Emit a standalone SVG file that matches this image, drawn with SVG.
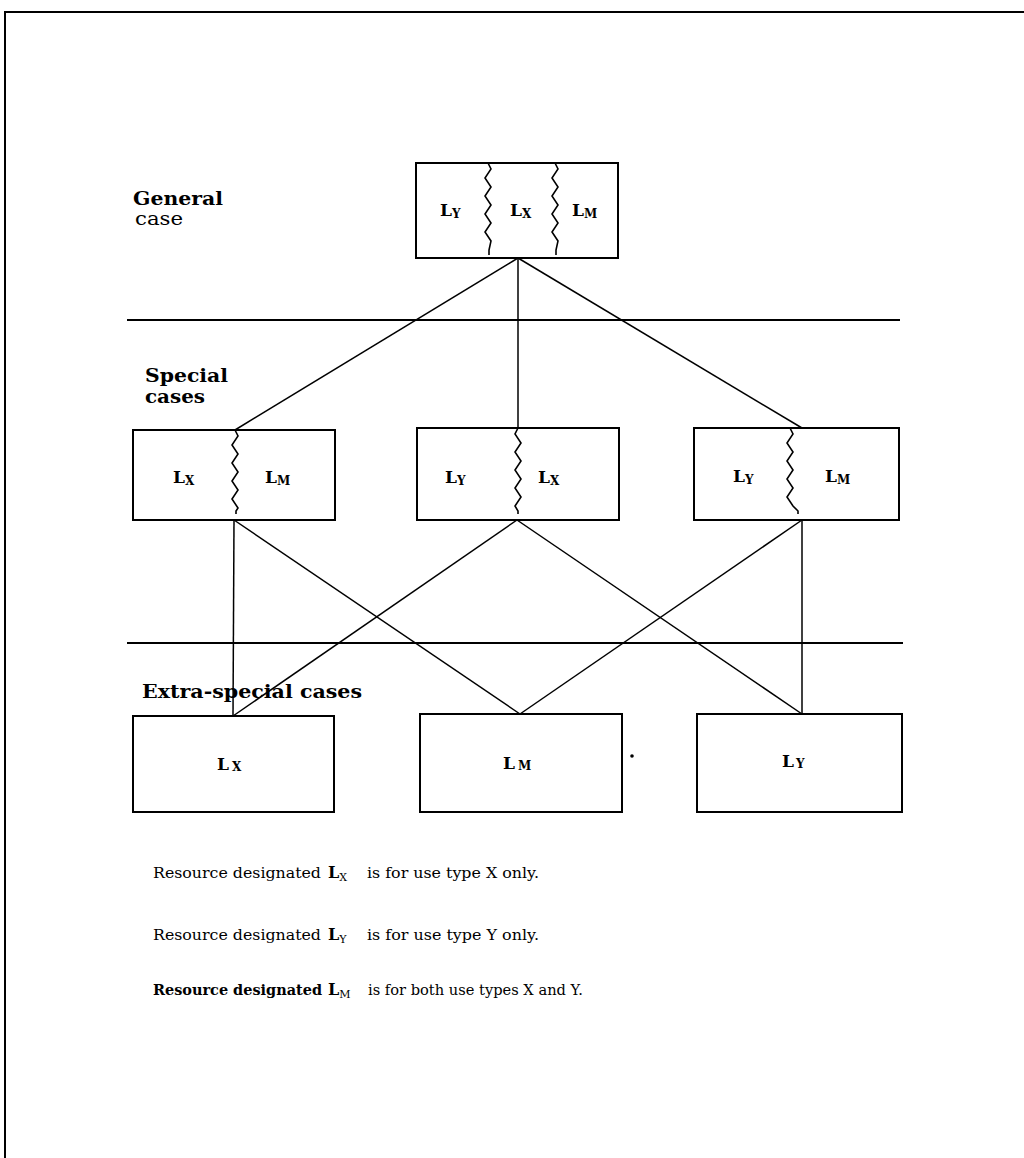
<svg xmlns="http://www.w3.org/2000/svg" width="1024" height="1158" viewBox="0 0 1024 1158">
<style>
.box{fill:none;stroke:#000;stroke-width:2}
.wave{fill:none;stroke:#000;stroke-width:1.6;stroke-linejoin:miter}
.ln{stroke:#000;stroke-width:1.5;fill:none}
.sep{stroke:#000;stroke-width:2;fill:none}
.lab{font-family:"DejaVu Serif","Liberation Serif",serif;font-weight:bold;font-size:17px;fill:#000}
.sub{font-size:12px}
.head{font-family:"DejaVu Serif","Liberation Serif",serif;font-weight:bold;font-size:19px;fill:#000}
.headr{font-family:"DejaVu Serif","Liberation Serif",serif;font-size:18px;fill:#000}
.note{font-family:"DejaVu Serif","Liberation Serif",serif;font-size:14.5px;fill:#000}
</style>
<rect width="1024" height="1158" fill="#fff"/>
<g id="frame">
<line class="sep" x1="5" y1="12" x2="1024" y2="12"/>
<line class="sep" x1="5" y1="11" x2="5" y2="1158"/>
</g>
<g id="separators">
<line class="sep" x1="127" y1="320" x2="900" y2="320"/>
<line class="sep" x1="127" y1="643" x2="903" y2="643"/>
</g>
<g id="headings">
<text class="head" x="133" y="205" textLength="90" lengthAdjust="spacingAndGlyphs">General</text>
<text class="headr" x="135" y="225" textLength="48" lengthAdjust="spacingAndGlyphs">case</text>
<text class="head" x="145" y="382" textLength="83" lengthAdjust="spacingAndGlyphs">Special</text>
<text class="head" x="145" y="403" textLength="60" lengthAdjust="spacingAndGlyphs">cases</text>
<text class="head" x="142" y="698" textLength="220" lengthAdjust="spacingAndGlyphs">Extra-special cases</text>
</g>
<g id="connectors">
<line class="ln" x1="518" y1="258" x2="235" y2="430"/>
<line class="ln" x1="518" y1="258" x2="518" y2="428"/>
<line class="ln" x1="518" y1="258" x2="802" y2="428"/>
<line class="ln" x1="234" y1="520" x2="233" y2="716"/>
<line class="ln" x1="234" y1="520" x2="520" y2="714"/>
<line class="ln" x1="517" y1="520" x2="233" y2="716"/>
<line class="ln" x1="517" y1="520" x2="802" y2="714"/>
<line class="ln" x1="802" y1="520" x2="802" y2="714"/>
<line class="ln" x1="802" y1="520" x2="520" y2="714"/>
</g>
<g id="general-case">
<rect class="box" x="416" y="163" width="202" height="95"/>
<path class="wave" d="M488,163 l3,6 l-6,9 l6,9 l-6,9 l6,9 l-6,9 l6,9 l-6,9 l6,9 l-2,9 l0,5"/>
<path class="wave" d="M555,163 l3,6 l-6,9 l6,9 l-6,9 l6,9 l-6,9 l6,9 l-6,9 l6,9 l-2,9 l0,5"/>
<text class="lab" x="440" y="216">L<tspan class="sub" dy="2">Y</tspan></text>
<text class="lab" x="510" y="216">L<tspan class="sub" dy="2">X</tspan></text>
<text class="lab" x="572" y="216">L<tspan class="sub" dy="2">M</tspan></text>
</g>
<g id="special-xm">
<rect class="box" x="133" y="430" width="202" height="90"/>
<path class="wave" d="M235,430 l3,6 l-6,9 l6,9 l-6,9 l6,9 l-6,9 l6,9 l-6,9 l6,9 l-2,3 l0,3"/>
<text class="lab" x="173" y="483">L<tspan class="sub" dy="2">X</tspan></text>
<text class="lab" x="265" y="483">L<tspan class="sub" dy="2">M</tspan></text>
</g>
<g id="special-yx">
<rect class="box" x="417" y="428" width="202" height="92"/>
<path class="wave" d="M518,428 l-3,6 l6,9 l-6,9 l6,9 l-6,9 l6,9 l-6,9 l6,9 l-6,9 l3,5 l0,3"/>
<text class="lab" x="445" y="483">L<tspan class="sub" dy="2">Y</tspan></text>
<text class="lab" x="538" y="483">L<tspan class="sub" dy="2">X</tspan></text>
</g>
<g id="special-ym">
<rect class="box" x="694" y="428" width="205" height="92"/>
<path class="wave" d="M790,428 l3,6 l-6,9 l6,9 l-6,9 l6,9 l-6,9 l6,9 l-6,9 l6,9 l5,5 l0,3"/>
<text class="lab" x="733" y="482">L<tspan class="sub" dy="2">Y</tspan></text>
<text class="lab" x="825" y="482">L<tspan class="sub" dy="2">M</tspan></text>
</g>
<g id="extra-x">
<rect class="box" x="133" y="716" width="201" height="96"/>
<text class="lab" x="217" y="770">L<tspan class="sub" dx="3" dy="1">X</tspan></text>
</g>
<g id="extra-m">
<rect class="box" x="420" y="714" width="202" height="98"/>
<text class="lab" x="503" y="769">L<tspan class="sub" dx="3" dy="1">M</tspan></text>
</g>
<g id="extra-y">
<rect class="box" x="697" y="714" width="205" height="98"/>
<text class="lab" x="782" y="767">L<tspan class="sub" dx="2" dy="1">Y</tspan></text>
</g>
<circle cx="632" cy="756" r="1.8" fill="#000"/>
<g id="legend">
<text class="note" x="153" y="878"><tspan textLength="168" lengthAdjust="spacingAndGlyphs">Resource designated</tspan><tspan x="328" font-weight="bold" font-size="16">L</tspan><tspan font-size="11" dy="3">X</tspan><tspan x="367" dy="-3" textLength="172" lengthAdjust="spacingAndGlyphs">is for use type X only.</tspan></text>
<text class="note" x="153" y="940"><tspan textLength="168" lengthAdjust="spacingAndGlyphs">Resource designated</tspan><tspan x="328" font-weight="bold" font-size="16">L</tspan><tspan font-size="11" dy="3">Y</tspan><tspan x="367" dy="-3" textLength="172" lengthAdjust="spacingAndGlyphs">is for use type Y only.</tspan></text>
<text class="note" x="153" y="995"><tspan font-weight="bold" textLength="169" lengthAdjust="spacingAndGlyphs">Resource designated</tspan><tspan x="328" font-weight="bold" font-size="16">L</tspan><tspan font-size="11" dy="3">M</tspan><tspan x="368" dy="-3" textLength="215" lengthAdjust="spacingAndGlyphs">is for both use types X and Y.</tspan></text>
</g>
</svg>
